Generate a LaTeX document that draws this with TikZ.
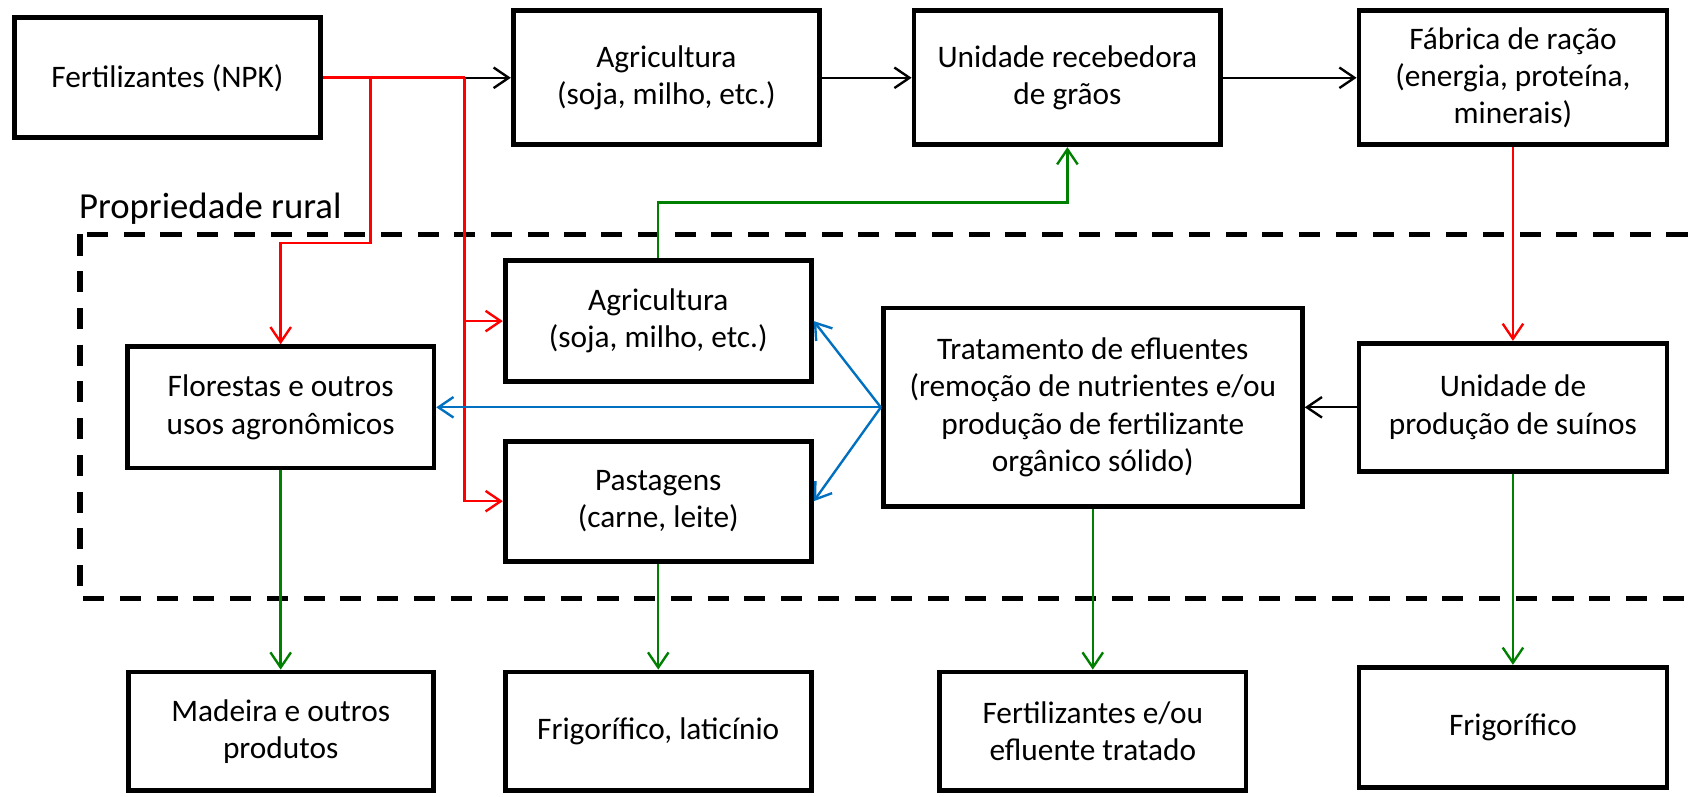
\documentclass[tikz,border=0pt]{standalone}
\usepackage{fontspec}
\setmainfont{Carlito}
\usetikzlibrary{arrows.meta}
\definecolor{flowred}{RGB}{255,0,0}
\definecolor{flowgreen}{RGB}{0,128,0}
\definecolor{flowblue}{RGB}{0,112,192}
\begin{document}
\begin{tikzpicture}[x=1pt,y=-1pt,
  box/.style={draw=black, line width=4.4pt, fill=white, inner sep=0pt,
    align=center, font=\fontsize{29}{34.5}\selectfont},
  link/.style={line width=2.2pt},
  tipped/.style={link, -{Straight Barb[length=14pt,width=19pt,line width=2.2pt]}},
  redline/.style={link, draw=flowred},
  greenline/.style={link, draw=flowgreen},
  blueline/.style={link, draw=flowblue}]
\clip (0,0) rectangle (1568,737);
\fill[white] (0,0) rectangle (1568,737);

% farm boundary
\draw[line width=4.8pt, dash pattern=on 19.5pt off 14.5pt] (74,217) rectangle (1620,554);
\node[anchor=base west, inner sep=0pt, font=\fontsize{34}{40}\selectfont] (farm) at (73,202) {Propriedade rural};

% top row
\node[box, minimum width=283, minimum height=111] (fert) at (155,72) {Fertilizantes (NPK)};
\node[box, minimum width=283.5, minimum height=124] (agriT) at (616.8,72) {Agricultura\\(soja, milho, etc.)};
\node[box, minimum width=284, minimum height=124] (unid) at (988,72) {Unidade recebedora\\de grãos};
\node[box, minimum width=285, minimum height=124] (fab) at (1400.4,72) {Fábrica de ração\\(energia, proteína,\\minerais)};

% inside the farm
\node[box, minimum width=283.4, minimum height=112.4] (agriI) at (609.3,297.2) {Agricultura\\(soja, milho, etc.)};
\node[box, minimum width=283.4, minimum height=111] (past) at (609.3,463.9) {Pastagens\\(carne, leite)};
\node[box, minimum width=283.6, minimum height=112.3] (flor) at (259.8,377) {Florestas e outros\\usos agronômicos};
\node[box, minimum width=388, minimum height=184] (trat) at (1011.5,377) {Tratamento de efluentes\\(remoção de nutrientes e/ou\\produção de fertilizante\\orgânico sólido)};
\node[box, minimum width=285, minimum height=118.5] (suin) at (1400.4,377) {Unidade de\\produção de suínos};

% bottom row
\node[box, minimum width=282.4, minimum height=110] (mad) at (259.8,677) {Madeira e outros\\produtos};
\node[box, minimum width=283, minimum height=110] (friglat) at (609.3,677) {Frigorífico, laticínio};
\node[box, minimum width=283.4, minimum height=110] (fertou) at (1011.5,677) {Fertilizantes e/ou\\efluente tratado};
\node[box, minimum width=285, minimum height=111.7] (frig) at (1400.4,673.4) {Frigorífico};

% junctions of the fertiliser lines
\coordinate (j1) at (343,72);
\coordinate (j2) at (430,72);
\coordinate (k1) at (343,225);
\coordinate (g1) at (609.3,187.3);

% fertiliser (red) distribution
\draw[redline, line width=2.6pt] (fert.east) -- (j2);
\draw[tipped] (j2) -- (agriT.west);
\draw[redline, tipped] (j1) -- (k1) -| (flor.north);
\draw[redline, tipped] (j2) |- (past.west);
\draw[redline, tipped] (j2 |- agriI.west) -- (agriI.west);
\draw[redline, tipped] (fab.south) -- (suin.north);

% grain and feed chain
\draw[tipped] (agriT.east) -- (unid.west);
\draw[tipped] (unid.east) -- (fab.west);
\draw[greenline, tipped] (agriI.north) -- (g1) -| (unid.south);

% effluent treatment
\draw[tipped] (suin.west) -- (trat.east);
\draw[blueline, tipped] (trat.west) -- (flor.east);
\draw[blueline, tipped] (trat.west) -- (agriI.east);
\draw[blueline, tipped] (trat.west) -- (past.east);

% products
\draw[greenline, tipped] (flor.south) -- (mad.north);
\draw[greenline, tipped] (past.south) -- (friglat.north);
\draw[greenline, tipped] (trat.south) -- (fertou.north);
\draw[greenline, tipped] (suin.south) -- (frig.north);
\end{tikzpicture}
\end{document}
